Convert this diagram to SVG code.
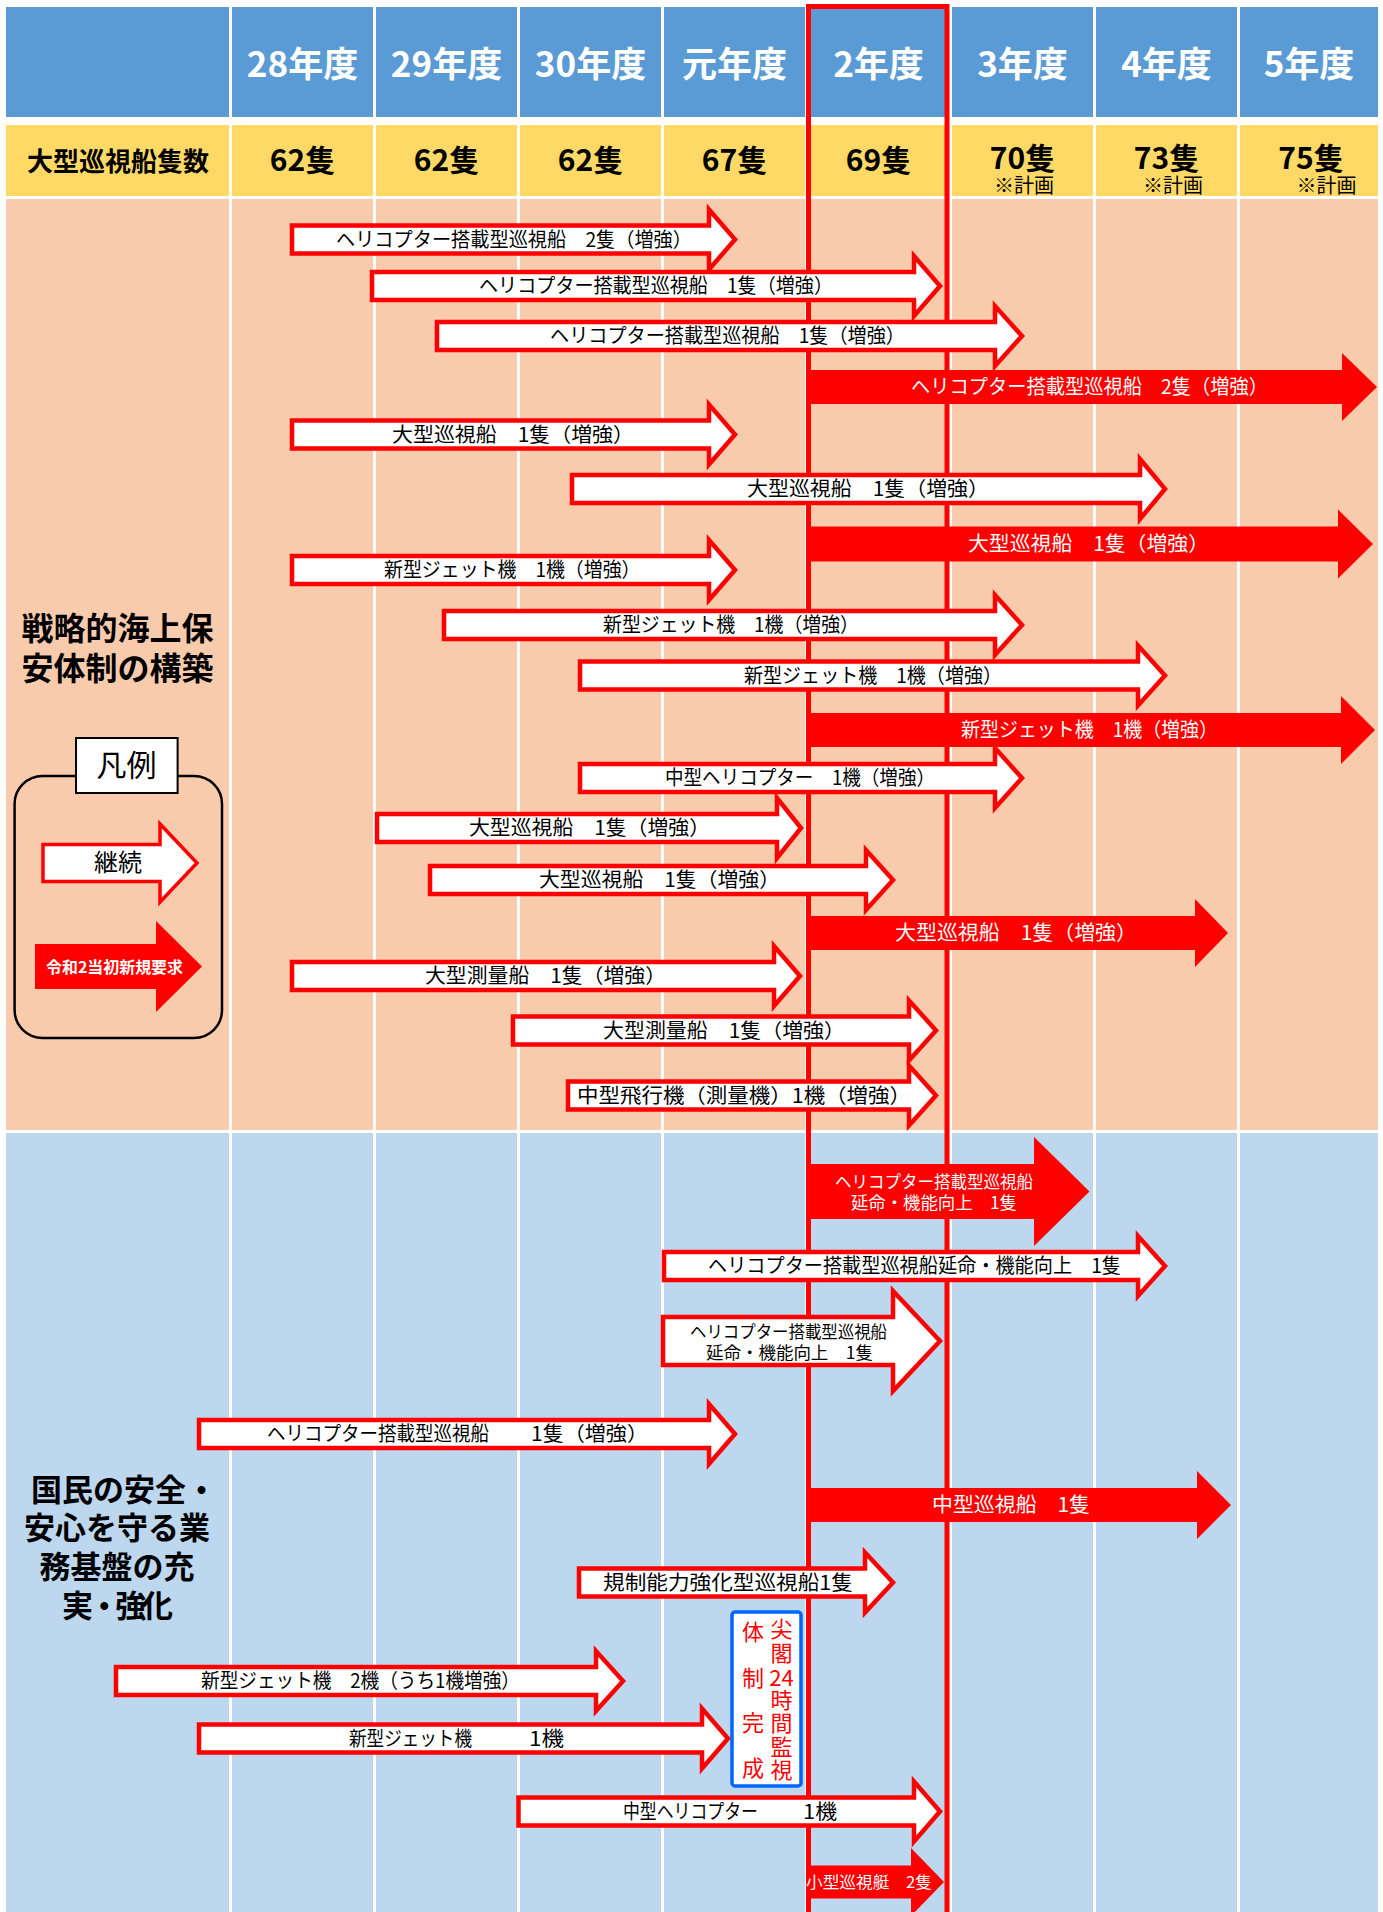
<svg xmlns="http://www.w3.org/2000/svg" width="1383" height="1912" viewBox="0 0 1383 1912">
<style>
text{font-family:"Noto Sans CJK JP","Noto Sans",sans-serif}
.hd{font-size:35px;font-weight:700;fill:#fff;text-anchor:middle}
.num{font-size:30px;font-weight:700;fill:#000;text-anchor:middle}
.plan{font-size:20px;font-weight:400}
.ttl{font-size:32px;font-weight:700;fill:#000;text-anchor:middle}
.ttl2{font-size:31px;font-weight:700;fill:#000}
.t{font-size:20px;fill:#000}
.tw{font-size:20px;fill:#fff}
.s17{font-size:17px}
.s16{font-size:16px}
.wa{fill:#fff;stroke:#f00;stroke-width:4.5}
.ra{fill:#f00}
.bt{font-size:22px;fill:#f00;text-anchor:middle}
</style>
<g id="background">
<rect width="1383" height="1912" fill="#fff"/>
<rect x="6" y="7" width="1372" height="110" fill="#5B9BD5"/>
<rect x="6" y="125" width="1372" height="71" fill="#FFD966"/>
<rect x="6" y="199" width="1372" height="931" fill="#F8CBAD"/>
<rect x="6" y="1133" width="1372" height="779" fill="#BDD7EE"/>
<g fill="#fff">
<rect x="229" y="7" width="3" height="1905"/>
<rect x="373" y="7" width="3" height="1905"/>
<rect x="517" y="7" width="3" height="1905"/>
<rect x="661" y="7" width="3" height="1905"/>
<rect x="805" y="7" width="3" height="1905"/>
<rect x="949" y="7" width="3" height="1905"/>
<rect x="1093" y="7" width="3" height="1905"/>
<rect x="1237" y="7" width="3" height="1905"/>
</g>
</g>
<g id="header">
<text class="hd" x="302.5" y="77">28年度</text>
<text class="hd" x="446.5" y="77">29年度</text>
<text class="hd" x="590.5" y="77">30年度</text>
<text class="hd" x="734.5" y="77">元年度</text>
<text class="hd" x="878.5" y="77">2年度</text>
<text class="hd" x="1022.5" y="77">3年度</text>
<text class="hd" x="1166.5" y="77">4年度</text>
<text class="hd" x="1309" y="77">5年度</text>
</g>
<g id="counts">
<text x="118" y="170.5" style="font-size:26px;font-weight:700;text-anchor:middle">大型巡視船隻数</text>
<text class="num" x="302.5" y="171">62隻</text>
<text class="num" x="446.5" y="171">62隻</text>
<text class="num" x="590.5" y="171">62隻</text>
<text class="num" x="734.5" y="171">67隻</text>
<text class="num" x="878.5" y="171">69隻</text>
<text class="num" x="1022.5" y="169">70隻<tspan class="plan" x="1024" y="193">※計画</tspan></text>
<text class="num" x="1166.5" y="169">73隻<tspan class="plan" x="1173" y="193">※計画</tspan></text>
<text class="num" x="1311" y="169">75隻<tspan class="plan" x="1326.5" y="193">※計画</tspan></text>
</g>
<g id="section1-title">
<text class="ttl" x="117.5" y="640">戦略的海上保<tspan x="117.5" y="679.5">安体制の構築</tspan></text>
</g>
<g id="section2-title">
<text class="ttl2" x="31" y="1500.5">国民の安全・<tspan x="117" y="1538.5" text-anchor="middle">安心を守る業</tspan><tspan x="117" y="1577.5" text-anchor="middle">務基盤の充</tspan><tspan x="62" y="1616.5" textLength="111" lengthAdjust="spacing">実・強化</tspan></text>
</g>
<g id="legend">
<rect x="14.6" y="776" width="207.4" height="262" rx="28" fill="none" stroke="#000" stroke-width="2.5"/>
<rect x="76" y="738" width="101.6" height="55" fill="#fff" stroke="#000" stroke-width="2"/>
<text x="126.5" y="776" style="font-size:30px;text-anchor:middle">凡例</text>
<polygon points="43,844.5 160,844.5 160,824 197,863 160,902 160,881.5 43,881.5" fill="#fff" stroke="#f00" stroke-width="3.5"/>
<text x="118" y="871" style="font-size:24px;text-anchor:middle">継続</text>
<polygon class="ra" points="35,944 156,944 156,921 202,966.5 156,1012 156,989 35,989"/>
<text x="46" y="973" textLength="137" lengthAdjust="spacingAndGlyphs" style="font-size:16px;font-weight:700;fill:#fff">令和2当初新規要求</text>
</g>
<g id="current-year-frame">
<path d="M808.5,1915 V6.5 H947 V1915" fill="none" stroke="#f00" stroke-width="5"/>
</g>
<g id="a1"><polygon class="wa" points="292,225.5 709,225.5 709,209.5 735,239.5 709,269.5 709,253.5 292,253.5"/>
<text class="t" x="336" y="246.5" textLength="356" lengthAdjust="spacingAndGlyphs">ヘリコプター搭載型巡視船　2隻（増強）</text></g>
<g id="a2"><polygon class="wa" points="372,272 914,272 914,256 940,286 914,316 914,300 372,300"/>
<text class="t" x="479" y="293" textLength="354" lengthAdjust="spacingAndGlyphs">ヘリコプター搭載型巡視船　1隻（増強）</text></g>
<g id="a3"><polygon class="wa" points="437,322 995,322 995,306 1022,336 995,366 995,350 437,350"/>
<text class="t" x="550" y="343" textLength="355" lengthAdjust="spacingAndGlyphs">ヘリコプター搭載型巡視船　1隻（増強）</text></g>
<g id="a4"><polygon class="ra" points="806,370 1342,370 1342,353 1377,387 1342,421 1342,404 806,404"/>
<text class="tw" x="911" y="394" textLength="357" lengthAdjust="spacingAndGlyphs">ヘリコプター搭載型巡視船　2隻（増強）</text></g>
<g id="a5"><polygon class="wa" points="292,420.5 709,420.5 709,404.5 735,434.5 709,464.5 709,448.5 292,448.5"/>
<text class="t" x="392" y="441.5" textLength="242" lengthAdjust="spacingAndGlyphs">大型巡視船　1隻（増強）</text></g>
<g id="a6"><polygon class="wa" points="572,475 1140,475 1140,459 1165,489 1140,519 1140,503 572,503"/>
<text class="t" x="747" y="496" textLength="242" lengthAdjust="spacingAndGlyphs">大型巡視船　1隻（増強）</text></g>
<g id="a7"><polygon class="ra" points="806,526.5 1338,526.5 1338,509.5 1373,544 1338,578.5 1338,561.5 806,561.5"/>
<text class="tw" x="968" y="551" textLength="241" lengthAdjust="spacingAndGlyphs">大型巡視船　1隻（増強）</text></g>
<g id="a8"><polygon class="wa" points="292,556 709,556 709,540 735,570 709,600 709,584 292,584"/>
<text class="t" x="384" y="577" textLength="256.5" lengthAdjust="spacingAndGlyphs">新型ジェット機　1機（増強）</text></g>
<g id="a9"><polygon class="wa" points="444,611 995,611 995,595 1022,625 995,655 995,639 444,639"/>
<text class="t" x="603" y="632" textLength="256" lengthAdjust="spacingAndGlyphs">新型ジェット機　1機（増強）</text></g>
<g id="a10"><polygon class="wa" points="580,661.5 1138,661.5 1138,645.5 1165,675.5 1138,705.5 1138,689.5 580,689.5"/>
<text class="t" x="744" y="682.5" textLength="258" lengthAdjust="spacingAndGlyphs">新型ジェット機　1機（増強）</text></g>
<g id="a11"><polygon class="ra" points="806,713 1341,713 1341,696 1375,730 1341,764 1341,747 806,747"/>
<text class="tw" x="961" y="737" textLength="257" lengthAdjust="spacingAndGlyphs">新型ジェット機　1機（増強）</text></g>
<g id="a12"><polygon class="wa" points="580,764 995,764 995,748 1022,778 995,808 995,792 580,792"/>
<text class="t" x="665" y="785" textLength="270" lengthAdjust="spacingAndGlyphs">中型ヘリコプター　1機（増強）</text></g>
<g id="a13"><polygon class="wa" points="377,814 777,814 777,798 801,828 777,858 777,842 377,842"/>
<text class="t" x="469" y="835" textLength="241" lengthAdjust="spacingAndGlyphs">大型巡視船　1隻（増強）</text></g>
<g id="a14"><polygon class="wa" points="430,866 866,866 866,850 893,880 866,910 866,894 430,894"/>
<text class="t" x="539" y="887" textLength="241" lengthAdjust="spacingAndGlyphs">大型巡視船　1隻（増強）</text></g>
<g id="a15"><polygon class="ra" points="806,916 1195,916 1195,899 1228,933 1195,967 1195,950 806,950"/>
<text class="tw" x="895" y="940" textLength="242" lengthAdjust="spacingAndGlyphs">大型巡視船　1隻（増強）</text></g>
<g id="a16"><polygon class="wa" points="292,962 774,962 774,946 800,976 774,1006 774,990 292,990"/>
<text class="t" x="425" y="983" textLength="241" lengthAdjust="spacingAndGlyphs">大型測量船　1隻（増強）</text></g>
<g id="a17"><polygon class="wa" points="513,1016.5 909,1016.5 909,1000.5 936,1030.5 909,1060.5 909,1044.5 513,1044.5"/>
<text class="t" x="603" y="1037.5" textLength="242" lengthAdjust="spacingAndGlyphs">大型測量船　1隻（増強）</text></g>
<g id="a18"><polygon class="wa" points="568,1081.5 909,1081.5 909,1065.5 936,1095.5 909,1125.5 909,1109.5 568,1109.5"/>
<text class="t" x="577" y="1102.5" textLength="334" lengthAdjust="spacingAndGlyphs">中型飛行機（測量機）1機（増強）</text></g>
<g id="b1"><polygon class="ra" points="806,1164 1034,1164 1034,1137 1089.5,1191.5 1034,1246 1034,1219 806,1219"/>
<text class="tw s17"><tspan x="835" y="1187.5" textLength="198" lengthAdjust="spacingAndGlyphs">ヘリコプター搭載型巡視船</tspan><tspan x="851" y="1209" textLength="166" lengthAdjust="spacingAndGlyphs">延命・機能向上　1隻</tspan></text></g>
<g id="b2"><polygon class="wa" points="664,1252 1138,1252 1138,1236 1165,1266 1138,1296 1138,1280 664,1280"/>
<text class="t" x="708" y="1273" textLength="413" lengthAdjust="spacingAndGlyphs">ヘリコプター搭載型巡視船延命・機能向上　1隻</text></g>
<g id="b3"><polygon class="wa" points="663,1317 893,1317 893,1291 940,1341 893,1391 893,1365 663,1365"/>
<text class="t s17"><tspan x="690" y="1337.5" textLength="197" lengthAdjust="spacingAndGlyphs">ヘリコプター搭載型巡視船</tspan><tspan x="706" y="1359" textLength="167" lengthAdjust="spacingAndGlyphs">延命・機能向上　1隻</tspan></text></g>
<g id="b4"><polygon class="wa" points="199,1420 709,1420 709,1404 735,1434 709,1464 709,1448 199,1448"/>
<text class="t" x="267" y="1441" textLength="222" lengthAdjust="spacingAndGlyphs">ヘリコプター搭載型巡視船</text>
<text class="t" x="531" y="1441" textLength="117" lengthAdjust="spacingAndGlyphs">1隻（増強）</text></g>
<g id="b5"><polygon class="ra" points="806,1488 1197,1488 1197,1471 1231,1505 1197,1539 1197,1522 806,1522"/>
<text class="tw" x="932" y="1512" textLength="158" lengthAdjust="spacingAndGlyphs">中型巡視船　1隻</text></g>
<g id="b6"><polygon class="wa" points="579,1568.5 865,1568.5 865,1552.5 893,1582.5 865,1612.5 865,1596.5 579,1596.5"/>
<text class="t" x="603" y="1589.5" textLength="250" lengthAdjust="spacingAndGlyphs">規制能力強化型巡視船1隻</text></g>
<g id="b7"><polygon class="wa" points="116,1667 596,1667 596,1651 623,1681 596,1711 596,1695 116,1695"/>
<text class="t" x="201" y="1688" textLength="319" lengthAdjust="spacingAndGlyphs">新型ジェット機　2機（うち1機増強）</text></g>
<g id="b8"><polygon class="wa" points="199,1724.5 702,1724.5 702,1708.5 728,1738.5 702,1768.5 702,1752.5 199,1752.5"/>
<text class="t" x="349" y="1745.5" textLength="123" lengthAdjust="spacingAndGlyphs">新型ジェット機</text>
<text class="t" x="529" y="1745.5" textLength="35" lengthAdjust="spacingAndGlyphs">1機</text></g>
<g id="senkaku">
<rect x="732" y="1612" width="69" height="174" rx="3" fill="#fff" stroke="#0066FF" stroke-width="3.5"/>
<text class="bt"><tspan x="781.5" y="1637">尖</tspan><tspan x="781.5" y="1661">閣</tspan><tspan x="781.5" y="1686">24</tspan><tspan x="781.5" y="1708">時</tspan><tspan x="781.5" y="1731">間</tspan><tspan x="781.5" y="1755">監</tspan><tspan x="781.5" y="1778">視</tspan></text>
<text class="bt"><tspan x="753" y="1640">体</tspan><tspan x="753" y="1686">制</tspan><tspan x="753" y="1731">完</tspan><tspan x="753" y="1776">成</tspan></text>
</g>
<g id="b9"><polygon class="wa" points="518.5,1797.5 914,1797.5 914,1781.5 940,1811.5 914,1841.5 914,1825.5 518.5,1825.5"/>
<text class="t" x="623" y="1818.5" textLength="135" lengthAdjust="spacingAndGlyphs">中型ヘリコプター</text>
<text class="t" x="803" y="1818.5" textLength="34" lengthAdjust="spacingAndGlyphs">1機</text></g>
<g id="b10"><polygon class="ra" points="806,1865.5 911,1865.5 911,1848 944,1882 911,1916 911,1898.5 806,1898.5"/>
<text class="tw s16" x="806" y="1888" textLength="126" lengthAdjust="spacingAndGlyphs">小型巡視艇　2隻</text></g>
<g id="connectors"></g>
</svg>
